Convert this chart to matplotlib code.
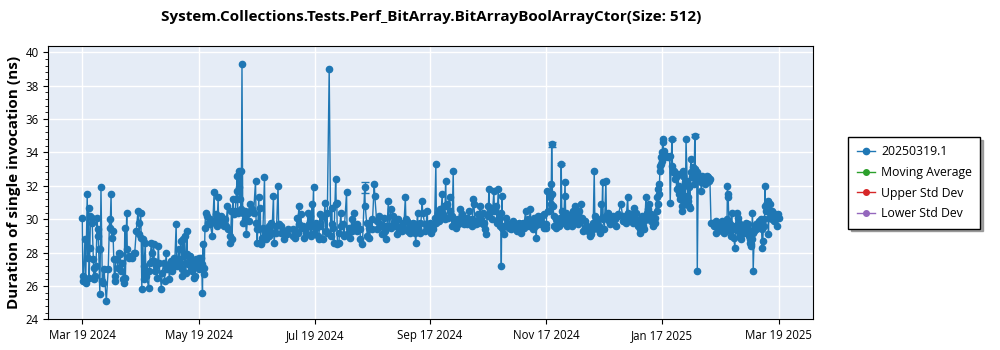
from datetime import datetime, timedelta

import matplotlib.pyplot as plt
import matplotlib.dates as mdates
from matplotlib.ticker import MultipleLocator, AutoMinorLocator

plt.rcParams['font.family'] = ['Open Sans', 'DejaVu Sans']

# Benchmark runs as (days since 2024-03-19, duration in ns)
spring = [
    (0.0, 30.1), (0.3, 26.6), (0.6, 26.3), (1.4, 28.8), (1.8, 26.2), (2.6, 31.5), (2.9, 27.7),
    (3.3, 30.7), (3.6, 26.5), (4.0, 28.3), (4.3, 30.2), (4.9, 30.1), (5.2, 29.8), (5.8, 27.6),
    (6.0, 26.4), (6.2, 26.5), (6.4, 27.1), (6.8, 26.6), (7.2, 27.2), (7.8, 30.1), (8.0, 29.4),
    (8.3, 29.0), (8.6, 28.2), (9.2, 25.5), (9.5, 28.2), (9.8, 31.9), (10.5, 26.3), (10.9, 26.2),
    (11.4, 27.0), (12.6, 25.1), (13.6, 27.0), (14.3, 30.0), (14.6, 29.5), (15.1, 31.5), (15.4, 28.9),
    (16.1, 29.3), (16.5, 27.6), (16.9, 26.3), (17.2, 26.6), (17.5, 27.6), (18.2, 27.6), (18.6, 27.1),
    (19.3, 28.0), (19.6, 27.9), (20.4, 26.9), (20.8, 27.4), (21.5, 26.4), (21.9, 26.2), (22.3, 29.5),
    (22.6, 26.5), (23.3, 30.4), (23.6, 28.2), (24.4, 27.8), (24.7, 27.7), (25.9, 27.7), (27.2, 28.0),
    (27.5, 28.0), (28.3, 29.3), (29.2, 30.5), (29.5, 29.8), (29.8, 29.1), (30.6, 30.4), (30.9, 28.9),
    (31.2, 25.8), (31.8, 28.8), (32.1, 26.4), (32.4, 27.2), (33.0, 28.6), (33.3, 26.9), (33.6, 26.6),
    (34.8, 25.9), (35.1, 26.9), (35.4, 27.4), (36.2, 28.6), (36.5, 28.0), (36.8, 27.5), (37.4, 28.5),
    (37.7, 27.5), (38.0, 26.9), (38.9, 27.2), (39.2, 26.5), (39.9, 28.4), (40.2, 27.4), (41.5, 25.8),
    (41.8, 26.8), (42.8, 27.4), (43.1, 26.3), (44.0, 28.0), (44.3, 27.0),
]

summer = [
    (45.3, 27.2), (45.6, 26.4), (46.7, 27.5), (47.0, 26.9), (48.1, 27.7), (48.4, 27.2), (49.2, 29.7),
    (49.5, 27.4), (49.8, 27.2), (50.5, 28.2), (50.8, 27.6), (51.8, 28.7), (52.1, 27.0), (52.4, 26.6),
    (52.8, 28.8), (53.1, 27.8), (53.6, 29.0), (53.9, 27.4), (54.2, 26.8), (54.8, 29.3), (55.1, 27.9),
    (55.4, 27.3), (56.2, 27.8), (56.5, 27.3), (56.8, 27.0), (57.5, 26.9), (57.8, 27.5), (58.6, 26.5),
    (58.9, 26.6), (59.8, 27.6), (60.1, 27.2), (61.0, 27.7), (61.3, 27.0), (62.3, 27.7), (62.6, 27.3),
    (63.0, 25.6), (63.3, 28.5), (63.6, 27.1), (63.9, 26.7), (64.3, 29.5), (64.6, 30.4), (65.5, 30.2),
    (65.8, 29.8), (66.8, 30.0), (67.1, 29.7), (68.1, 29.0), (69.1, 31.6), (69.4, 29.9), (70.3, 30.3),
    (70.6, 29.6), (71.2, 31.3), (71.5, 29.8), (72.6, 30.2), (72.9, 29.7), (73.8, 29.9), (74.1, 29.6),
    (75.0, 30.0), (75.3, 29.6), (76.1, 30.8), (76.4, 29.4), (77.3, 29.0), (77.6, 28.6), (78.2, 30.5),
    (78.5, 28.8), (79.0, 31.2), (79.3, 30.3), (80.2, 30.5), (80.5, 31.2), (80.9, 31.7), (81.1, 32.6),
    (81.4, 30.4), (81.9, 32.9), (82.2, 31.9), (82.5, 31.2), (83.0, 32.9), (83.3, 30.6), (83.7, 39.3),
    (84.1, 30.4), (84.4, 29.8), (85.2, 30.5), (85.5, 30.0), (86.0, 29.1), (86.9, 30.4), (87.2, 29.9),
    (87.8, 30.9), (88.1, 30.5), (88.7, 30.6), (89.0, 30.5), (89.8, 30.4), (90.8, 32.3), (91.1, 29.8),
    (91.4, 29.4), (91.7, 28.6), (92.5, 31.3), (92.8, 29.4), (93.3, 30.7), (93.6, 28.5), (93.9, 28.6),
    (94.4, 28.9), (94.7, 29.5), (95.5, 32.5), (95.8, 29.2), (96.5, 28.8), (96.8, 29.4), (97.7, 29.6),
    (98.0, 29.0), (99.1, 29.8), (99.4, 29.2), (100.2, 31.4), (100.5, 28.6), (101.4, 29.6), (101.7, 29.2),
    (102.6, 32.0), (102.9, 29.7), (104.0, 29.6), (104.3, 29.2), (105.8, 28.8), (106.1, 29.3),
    (107.5, 29.1), (107.8, 29.4),
]

midyear = [
    (110.2, 29.4), (110.5, 29.0), (111.4, 29.3), (111.7, 28.9), (112.6, 30.1), (112.9, 29.2),
    (113.5, 30.8), (113.8, 29.7), (114.6, 30.3), (114.9, 29.5), (115.8, 29.6), (116.1, 28.9),
    (117.2, 29.5), (117.5, 29.2), (118.4, 30.4), (118.7, 29.7), (119.6, 30.2), (119.9, 29.0),
    (120.3, 30.9), (120.6, 29.6), (121.2, 31.9), (121.5, 29.2), (122.4, 29.8), (122.7, 29.5),
    (123.7, 29.0), (124.0, 28.8), (124.5, 30.3), (124.8, 29.6), (125.8, 30.2), (126.1, 28.8),
    (127.2, 31.0), (127.5, 29.3), (128.0, 30.4), (128.3, 29.2), (129.4, 39.0), (130.2, 29.0),
    (130.7, 30.7), (131.0, 29.7), (131.5, 29.5), (131.8, 28.6), (132.8, 32.4), (133.1, 30.9),
    (133.4, 31.0), (133.7, 28.5), (134.5, 28.6), (134.8, 29.2), (135.5, 30.4), (135.8, 29.6),
    (136.8, 29.7), (137.1, 29.0), (138.5, 31.6), (138.8, 29.1), (139.9, 29.5), (140.2, 28.9),
    (141.3, 30.0), (141.6, 29.3), (142.5, 30.4), (142.8, 29.6), (143.8, 29.7), (144.1, 29.3),
    (145.5, 29.4), (145.8, 28.8), (146.8, 28.5), (148.0, 31.9), (148.3, 30.8), (149.0, 29.8),
    (149.3, 29.0), (150.2, 29.5), (150.5, 28.9), (151.6, 30.0), (151.9, 29.4), (153.0, 32.1),
    (153.3, 31.4), (154.3, 29.9), (154.6, 29.4), (155.7, 30.2), (156.0, 29.7), (156.9, 29.6),
    (157.2, 29.1), (158.3, 30.1), (158.6, 29.3), (159.1, 29.6), (159.4, 28.8), (160.4, 31.1),
    (160.7, 29.6), (161.6, 30.6), (161.9, 29.5), (163.0, 30.2), (163.3, 29.8), (164.4, 29.6),
    (164.7, 29.1), (165.6, 30.0), (165.9, 29.5), (167.0, 29.6), (167.3, 29.3), (168.2, 29.8),
    (168.5, 29.5), (169.3, 31.3), (169.6, 30.0), (170.3, 29.9), (170.6, 29.3), (171.7, 29.7),
    (172.0, 29.2), (173.1, 29.4), (173.4, 29.8),
]

autumn = [
    (174.1, 29.7), (174.4, 29.2), (174.7, 28.6), (175.7, 30.4), (176.0, 29.5), (176.9, 29.8),
    (177.2, 29.2), (178.1, 31.1), (178.4, 30.4), (179.5, 29.7), (179.8, 29.3), (180.8, 30.5),
    (181.1, 29.5), (182.2, 29.8), (182.5, 29.2), (183.4, 29.6), (183.7, 29.4), (184.4, 29.7),
    (184.7, 30.1), (185.3, 33.3), (185.6, 29.8), (186.5, 30.4), (186.8, 29.9), (187.6, 30.6),
    (187.9, 30.1), (188.6, 31.5), (188.9, 30.3), (189.7, 30.8), (190.0, 30.0), (190.4, 32.3),
    (190.7, 30.8), (191.4, 30.9), (191.7, 30.1), (192.5, 31.3), (192.8, 30.5), (193.5, 30.2),
    (193.8, 29.6), (194.4, 32.9), (194.7, 30.0), (195.3, 29.8), (195.6, 29.5), (196.7, 30.0),
    (197.0, 29.7), (197.9, 30.6), (198.2, 29.8), (198.8, 30.3), (199.1, 29.9), (200.0, 29.9),
    (200.3, 29.7), (201.4, 30.1), (201.7, 29.7), (202.8, 30.5), (203.1, 29.8), (204.0, 30.0),
    (204.3, 29.6), (204.9, 31.2), (205.2, 30.9), (205.8, 29.9), (206.1, 29.7), (207.2, 30.3),
    (207.5, 29.8), (208.6, 30.8), (208.9, 30.0), (209.8, 30.4), (210.1, 29.7), (210.7, 29.8),
    (211.0, 29.4), (211.8, 29.1), (212.4, 30.8), (212.7, 30.2), (213.1, 31.8), (213.4, 30.3),
    (214.5, 30.7), (214.8, 30.0), (215.7, 31.7), (216.0, 30.5), (217.0, 30.8), (217.3, 29.8),
    (218.0, 31.8), (218.3, 30.1), (219.0, 29.6), (219.3, 30.4), (219.6, 27.2), (219.9, 31.4),
    (220.2, 29.5), (220.8, 29.1), (221.1, 29.6), (221.9, 30.1), (222.2, 29.6), (223.3, 29.7),
    (223.6, 29.5), (224.6, 29.8), (224.9, 29.4), (225.9, 29.9), (226.2, 29.6), (227.3, 29.7),
    (227.6, 29.3), (228.5, 29.5), (228.8, 29.8), (229.9, 29.2), (230.2, 29.5), (231.1, 29.8),
    (231.4, 29.5), (232.3, 30.5), (232.6, 29.8), (233.7, 30.0), (234.0, 29.6), (234.8, 30.6),
    (235.1, 29.9), (235.8, 29.8), (236.1, 29.4), (236.9, 30.1), (237.2, 29.6), (237.9, 28.9),
    (238.2, 29.7), (239.0, 30.2), (239.3, 29.7),
]

early_winter = [
    (240.0, 29.8), (240.8, 30.2), (241.1, 29.8), (241.9, 30.3), (242.2, 29.5), (242.9, 29.7),
    (243.2, 29.5), (243.6, 31.7), (243.9, 30.5), (244.7, 30.5), (245.0, 31.3), (245.4, 32.1),
    (245.7, 30.9), (246.0, 34.5), (246.4, 31.5), (246.7, 30.8), (247.1, 30.2), (247.4, 29.6),
    (248.2, 29.5), (248.5, 30.0), (249.4, 29.9), (249.7, 29.6), (250.3, 30.1), (250.6, 29.7),
    (251.0, 33.3), (251.3, 30.5), (252.0, 30.1), (252.3, 29.8), (252.8, 31.4), (253.0, 32.2),
    (253.3, 30.4), (253.8, 29.9), (254.1, 29.6), (255.2, 30.2), (255.5, 29.7), (256.4, 29.9),
    (256.7, 29.6), (257.3, 30.5), (257.6, 30.0), (258.3, 30.8), (258.6, 30.2), (259.4, 30.3),
    (259.7, 29.7), (260.4, 30.5), (260.7, 29.9), (261.5, 30.9), (261.8, 30.1), (262.3, 29.3),
    (263.4, 29.9), (263.7, 29.5), (264.6, 29.6), (264.9, 29.3), (265.7, 29.4), (266.0, 29.0),
    (266.6, 29.1), (267.4, 29.8), (267.7, 29.4), (268.3, 32.9), (268.6, 30.2), (269.2, 30.1),
    (269.5, 29.8), (270.0, 29.9), (270.3, 29.4), (270.9, 29.6), (271.2, 29.2), (272.0, 30.9),
    (272.3, 30.1), (272.7, 32.2), (273.0, 30.0), (273.6, 29.4), (274.4, 32.3), (274.7, 30.2),
    (275.5, 30.4), (275.8, 29.9), (276.5, 30.0), (276.8, 29.7), (277.9, 30.2), (278.2, 29.8),
    (279.3, 30.0), (279.6, 29.6), (280.7, 30.2), (281.0, 30.3), (282.2, 30.9), (283.2, 30.2),
    (283.5, 29.9), (284.6, 30.1), (284.9, 29.8), (285.8, 31.3), (286.1, 30.4), (287.0, 30.2),
    (287.3, 30.0), (288.1, 30.3), (288.4, 29.8), (289.3, 30.7), (289.6, 30.1), (290.1, 30.4),
    (290.4, 29.9), (291.0, 29.9), (291.3, 29.6), (292.2, 29.4), (292.5, 29.2), (293.3, 30.2),
    (293.6, 29.6), (294.3, 29.9), (294.6, 29.4), (295.4, 31.3), (295.7, 30.4), (296.3, 30.6),
    (296.6, 30.1), (297.1, 30.9), (297.4, 30.3), (298.0, 30.3), (298.3, 29.9), (298.9, 29.9),
    (299.2, 29.6), (299.9, 30.1), (300.2, 29.8), (301.0, 31.3), (301.3, 30.5), (301.5, 31.8),
    (301.7, 30.9), (302.0, 32.1), (302.3, 31.5), (302.7, 32.9), (302.9, 33.2), (303.2, 33.7),
    (303.5, 33.3), (303.7, 34.0), (303.9, 33.5), (304.1, 34.8), (304.4, 34.6), (304.7, 33.7),
    (305.0, 34.1), (305.2, 33.8),
]

late_winter = [
    (306.6, 33.8), (306.9, 33.7), (307.8, 33.8), (308.1, 31.0), (309.0, 34.8), (309.3, 33.2),
    (309.6, 32.8), (310.2, 32.9), (310.5, 32.4), (311.2, 32.5), (311.5, 31.8), (312.2, 32.7),
    (312.5, 32.0), (312.8, 31.5), (313.2, 31.8), (313.5, 31.2), (313.9, 31.7), (314.1, 30.8),
    (314.4, 30.5), (314.8, 32.9), (315.0, 32.6), (315.3, 31.0), (315.8, 32.2), (316.1, 31.4),
    (316.4, 34.8), (317.0, 32.3), (317.3, 31.3), (317.6, 31.1), (317.8, 30.8), (318.1, 31.9),
    (318.4, 30.7), (318.9, 33.6), (319.2, 32.8), (319.6, 32.5), (319.9, 33.1), (320.3, 32.6),
    (320.6, 32.1), (321.0, 35.0), (321.3, 33.0), (321.7, 32.5), (322.0, 32.8), (322.3, 26.9),
    (322.8, 32.4), (323.1, 32.6), (323.7, 32.5), (324.0, 32.2), (324.5, 31.7), (324.8, 32.6),
    (325.4, 32.4), (325.7, 32.2), (326.3, 32.5), (326.6, 32.1), (327.2, 32.2), (327.5, 32.6),
    (328.0, 32.5), (328.3, 32.3), (328.9, 32.4), (329.5, 29.8), (330.7, 29.8), (331.0, 29.6),
    (331.9, 29.9), (332.2, 29.2), (332.9, 29.6), (333.2, 29.4), (334.1, 29.8), (334.4, 29.5),
    (335.0, 29.9), (335.3, 29.3), (335.9, 29.6), (336.2, 29.2), (336.8, 29.8), (337.1, 29.5),
    (337.7, 29.9), (337.9, 30.0), (338.1, 32.0), (338.3, 31.5), (338.5, 31.3), (338.9, 29.8),
    (339.2, 29.3), (339.7, 29.7), (340.0, 29.0), (340.3, 30.4), (340.6, 29.6), (341.1, 29.4),
    (341.4, 28.9), (342.0, 28.3), (342.3, 29.6), (342.9, 30.4), (343.2, 29.6), (343.5, 30.1),
    (343.7, 29.3), (344.3, 29.8), (344.6, 29.0), (345.2, 28.8), (345.5, 29.5), (346.0, 29.6),
    (346.3, 29.2), (346.9, 29.2), (347.2, 29.6), (347.8, 29.8), (348.1, 29.4), (348.7, 29.7),
    (349.0, 29.4), (349.5, 29.0), (349.8, 28.8), (350.1, 28.6), (350.4, 28.5), (350.7, 28.4),
    (351.0, 28.8), (351.2, 30.4), (351.4, 29.2), (351.6, 26.9), (352.2, 29.3), (352.5, 29.6),
    (353.0, 29.7), (353.3, 29.4), (353.9, 29.8), (354.2, 29.5), (354.8, 29.9), (355.1, 29.6),
    (355.7, 30.0), (356.0, 29.4), (356.3, 28.3), (356.6, 28.7), (357.2, 30.0), (357.5, 29.6),
    (357.8, 32.0), (358.0, 30.8), (358.3, 30.5), (358.6, 31.0), (359.0, 31.0), (359.3, 31.1),
    (359.6, 29.1), (359.8, 30.1), (360.4, 30.9), (360.7, 30.3), (361.2, 30.5), (361.5, 30.0),
    (362.1, 30.4), (362.4, 29.9), (363.0, 30.3), (363.3, 30.2), (363.7, 30.0), (364.0, 29.6),
    (364.6, 30.3), (364.9, 30.1),
]

# Runs with a visible spread between iterations
err_days = [148.0, 246.0, 251.0, 309.0, 321.0]
err_ns = [31.9, 34.5, 33.3, 34.8, 35.0]
err_half = [0.35, 0.15, 0.08, 0.08, 0.08]

tick_dates = ['2024-03-19', '2024-05-19', '2024-07-19', '2024-09-17',
              '2024-11-17', '2025-01-17', '2025-03-19']

title = 'System.Collections.Tests.Perf_BitArray.BitArrayBoolArrayCtor(Size: 512)'
series_names = ['20250319.1', 'Moving Average', 'Upper Std Dev', 'Lower Std Dev']
series_colors = ['#1f77b4', '#2ca02c', '#d62728', '#9467bd']

start = datetime(2024, 3, 19)
runs = spring + summer + midyear + autumn + early_winter + late_winter
run_dates = [start + timedelta(days=d) for d, _ in runs]
run_ns = [v for _, v in runs]

fig = plt.figure(figsize=(10, 3.5), dpi=100)
ax = fig.add_axes([0.0483, 0.0877, 0.765, 0.7809])
ax.set_facecolor('#e5ecf6')

ax.plot(run_dates, run_ns, color=series_colors[0], marker='o', markersize=4.5,
        linewidth=1, label=series_names[0], zorder=3)
ax.errorbar([start + timedelta(days=d) for d in err_days], err_ns, yerr=err_half,
            fmt='none', ecolor=series_colors[0], capsize=3, elinewidth=1, zorder=3)
for name, color in zip(series_names[1:], series_colors[1:]):
    ax.plot([], [], color=color, marker='o', markersize=4, linewidth=1, label=name)

ax.set_ylim(24, 40.38)
ax.yaxis.set_major_locator(MultipleLocator(2))
ax.yaxis.set_minor_locator(AutoMinorLocator(5))
ax.set_xlim(start - timedelta(days=17.8), start + timedelta(days=383.1))
ax.set_xticks([datetime.strptime(t, '%Y-%m-%d') for t in tick_dates])
ax.xaxis.set_major_formatter(mdates.DateFormatter('%b %d %Y'))
ax.tick_params(labelsize=8.3)
ax.grid(True, color='white', linewidth=1)
ax.set_axisbelow(True)

fig.text(0.4307, 0.951, title, ha='center', va='center', fontsize=11, fontweight='bold')
fig.text(0.014, 0.478, 'Duration of single invocation (ns)', rotation=90,
         ha='center', va='center', fontsize=11, fontweight='bold')

legend_items = dict(fontsize=8.8, fancybox=False, edgecolor='black', framealpha=1,
                    shadow={'color': '0.55', 'alpha': 0.8}, handlelength=1.5,
                    handletextpad=0.5, borderpad=0.7, labelspacing=0.62)
fig.legend(loc='upper left', bbox_to_anchor=(0.848, 0.609), borderaxespad=0, **legend_items)

fig.savefig('out.png')
